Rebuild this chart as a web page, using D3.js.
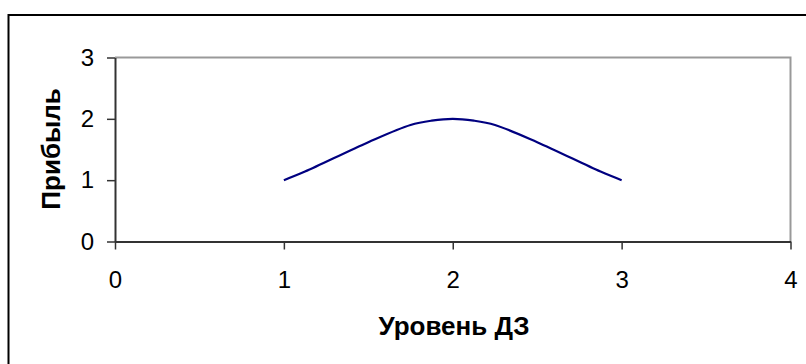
<!DOCTYPE html>
<html lang="ru">
<head>
    <meta charset="UTF-8">
    <title>Прибыль</title>
    <script src="https://d3js.org/d3.v7.min.js"></script>
    <style>
        body { margin: 0; padding: 0; background: #fff; }
        svg { display: block; font-family: "Liberation Sans", Arial, sans-serif; }
    </style>
</head>
<body>
<svg id="chart" width="806" height="364"></svg>
<script>
    // values
    const levels = [1, 1.125, 1.5, 1.75, 1.875, 2, 2.125, 2.25, 2.5, 2.875, 3];
    const profit = [1, 1.14, 1.62, 1.9, 1.97, 2, 1.97, 1.9, 1.62, 1.14, 1];
    const xTicks = [0, 1, 2, 3, 4];
    const yTicks = [0, 1, 2, 3];

    const svg = d3.select("#chart");

    // outer chart frame, runs off the right and bottom edge
    svg.append("rect")
        .attr("x", 8.5).attr("y", 15)
        .attr("width", 820).attr("height", 380)
        .attr("fill", "none").attr("stroke", "#000").attr("stroke-width", 2);

    const plot = { left: 115, right: 790.5, top: 57.5, bottom: 241.5 };

    const x = d3.scaleLinear().domain([0, 4]).range([plot.left, plot.right]);
    const y = d3.scaleLinear().domain([0, 3]).range([plot.bottom, plot.top]);

    // plot area: grey top and right edges
    svg.append("path")
        .attr("d", `M${plot.left},${plot.top}H${plot.right}V${plot.bottom}`)
        .attr("fill", "none").attr("stroke", "#999").attr("stroke-width", 2);

    const xAxis = svg.append("g")
        .attr("transform", `translate(0,${plot.bottom})`)
        .call(d3.axisBottom(x).tickValues(xTicks).tickFormat(d3.format("d"))
            .tickSizeInner(8).tickSizeOuter(0));

    const yAxis = svg.append("g")
        .attr("transform", `translate(${plot.left},0)`)
        .call(d3.axisLeft(y).tickValues(yTicks).tickFormat(d3.format("d"))
            .tickSizeInner(8).tickSizeOuter(0).tickPadding(13));

    [xAxis, yAxis].forEach(g => {
        g.select(".domain").attr("stroke", "#333").attr("stroke-width", 2);
        g.selectAll(".tick line").attr("stroke", "#333").attr("stroke-width", 1.5);
        g.selectAll(".tick text")
            .attr("fill", "#000")
            .style("font-size", "24px");
    });
    xAxis.selectAll(".tick text").attr("y", 46).attr("dy", 0);

    const line = d3.line()
        .x((d, i) => x(levels[i]))
        .y(d => y(d))
        .curve(d3.curveCatmullRom.alpha(0.5));

    svg.append("path")
        .datum(profit)
        .attr("d", line)
        .attr("fill", "none")
        .attr("stroke", "#000080")
        .attr("stroke-width", 2.2);

    svg.append("text")
        .attr("x", 454).attr("y", 335)
        .attr("text-anchor", "middle")
        .style("font-size", "26px").style("font-weight", "bold")
        .text("Уровень ДЗ");

    svg.append("text")
        .attr("transform", "translate(60,149) rotate(-90)")
        .attr("text-anchor", "middle")
        .style("font-size", "26px").style("font-weight", "bold")
        .text("Прибыль");
</script>
</body>
</html>
